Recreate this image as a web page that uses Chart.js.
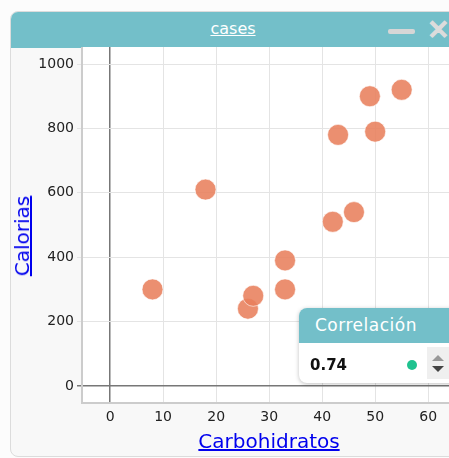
<!DOCTYPE html>
<html>
<head>
<meta charset="utf-8">
<script src="https://cdn.jsdelivr.net/npm/chart.js@4"></script>
<style>
  html, body { margin: 0; padding: 0; width: 449px; height: 458px; overflow: hidden; background: #fcfcfc; font-family: "DejaVu Sans", sans-serif; }
  .card { position: absolute; left: 10px; top: 11px; width: 470px; height: 444px; background: #f8f8f8; border: 1px solid #dcdcdc; border-radius: 8px; overflow: hidden; }
  .head { position: absolute; left: 0; top: 0; right: 0; height: 36px; background: #73bfc9; }
  .head .title { position: absolute; left: 222px; width: 0; top: 7px; display: flex; justify-content: center; }
  .head .title span { color: #fff; text-decoration: underline; font-size: 16px; white-space: nowrap; }
  .minus { position: absolute; left: 377px; top: 17px; width: 27px; height: 5px; background: #d6d6d6; border-radius: 2px; }
  .close { position: absolute; left: 416px; top: 4px; color: #dcdcdc; font-size: 27px; font-weight: bold; line-height: 28px; -webkit-text-stroke: 1.5px #dcdcdc; }
  #wrap { position: absolute; left: 10px; top: 47px; width: 450px; height: 400px; }
  .ytitle { position: absolute; left: 22px; top: 236px; transform: translate(-50%, -50%) rotate(-90deg); color: #0000ee; text-decoration: underline; font-size: 20px; white-space: nowrap; }
  .xtitle { position: absolute; left: 269px; top: 441px; transform: translate(-50%, -50%); color: #0000ee; text-decoration: underline; font-size: 20px; white-space: nowrap; }
  .corr { position: absolute; left: 299px; top: 308px; width: 170px; height: 75px; background: #fff; border-radius: 8px; box-shadow: 0 1px 4px rgba(0,0,0,0.25); overflow: hidden; }
  .corr .ch { height: 35px; background: #73bfc9; color: #fff; font-size: 17px; line-height: 35px; padding-left: 16px; letter-spacing: 0.5px; }
  .corr .val { position: absolute; left: 11px; top: 48px; font-size: 15px; font-weight: bold; color: #111; }
  .corr .dot { position: absolute; left: 108px; top: 52px; width: 10px; height: 10px; border-radius: 5px; background: #1fc28f; }
  .corr .spin { position: absolute; left: 128px; top: 39px; width: 24px; height: 32px; background: #efefef; }
  .up, .down { position: absolute; left: 5px; width: 0; height: 0; border-left: 6px solid transparent; border-right: 6px solid transparent; }
  .up { top: 8px; border-bottom: 6px solid #999; }
  .down { top: 19px; border-top: 6px solid #444; }
</style>
</head>
<body>
<div class="card">
  <div class="head">
    <div class="title"><span>cases</span></div>
    <div class="minus"></div>
    <div class="close">✕</div>
  </div>
</div>
<div id="wrap"><canvas id="chart"></canvas></div>
<div class="ytitle">Calorias</div>
<div class="xtitle">Carbohidratos</div>
<div class="corr">
  <div class="ch">Correlación</div>
  <div class="val">0.74</div>
  <div class="dot"></div>
  <div class="spin"><div class="up"></div><div class="down"></div></div>
</div>
<script>
const carbs    = [8, 18, 26, 27, 33, 33, 42, 46, 43, 49, 50, 55];
const calories = [300, 610, 240, 280, 390, 300, 510, 540, 780, 900, 790, 920];
const xTicks = [0, 10, 20, 30, 40, 50, 60];
const yTicks = [0, 200, 400, 600, 800, 1000];

const plotBg = {
  id: 'plotBg',
  beforeDraw(chart) {
    const { ctx, chartArea: a } = chart;
    ctx.save();
    ctx.fillStyle = '#ffffff';
    ctx.fillRect(a.left, a.top, a.right - a.left, a.bottom - a.top);
    ctx.restore();
  }
};

const gridColor = c => (c.tick && c.tick.value === 0) ? '#777777' : '#e4e4e4';
const gridWidth = c => (c.tick && c.tick.value === 0) ? 1.5 : 1;
const noPad = s => { s.paddingTop = 0; s.paddingBottom = 0; s.paddingLeft = 0; s.paddingRight = 0; };

new Chart(document.getElementById('chart'), {
  type: 'scatter',
  data: {
    datasets: [{
      data: carbs.map((c, i) => ({ x: c, y: calories[i] })),
      backgroundColor: 'rgba(232,128,92,0.88)',
      borderColor: 'rgba(255,255,255,0.6)',
      borderWidth: 1,
      pointRadius: 10.5,
      pointHoverRadius: 10.5
    }]
  },
  options: {
    responsive: true,
    maintainAspectRatio: false,
    animation: false,
    layout: { padding: 0, autoPadding: false },
    plugins: { legend: { display: false }, tooltip: { enabled: false } },
    scales: {
      x: {
        type: 'linear', min: -5.3, max: 66,
        afterBuildTicks: s => { s.ticks = xTicks.map(v => ({ value: v })); },
        afterFit: s => { s.height = 44; noPad(s); },
        grid: { color: gridColor, lineWidth: gridWidth, drawTicks: false },
        border: { color: '#cccccc', width: 2 },
        ticks: { color: '#222', font: { family: 'DejaVu Sans', size: 14 }, padding: 6, callback: v => String(v) }
      },
      y: {
        type: 'linear', min: -53, max: 1053,
        afterBuildTicks: s => { s.ticks = yTicks.map(v => ({ value: v })); },
        afterFit: s => { s.width = 72; noPad(s); },
        grid: { color: gridColor, lineWidth: gridWidth, tickLength: 5 },
        border: { color: '#cccccc', width: 2 },
        ticks: { color: '#222', font: { family: 'DejaVu Sans', size: 14 }, padding: 3, callback: v => String(v) }
      }
    }
  },
  plugins: [plotBg]
});
</script>
</body>
</html>
